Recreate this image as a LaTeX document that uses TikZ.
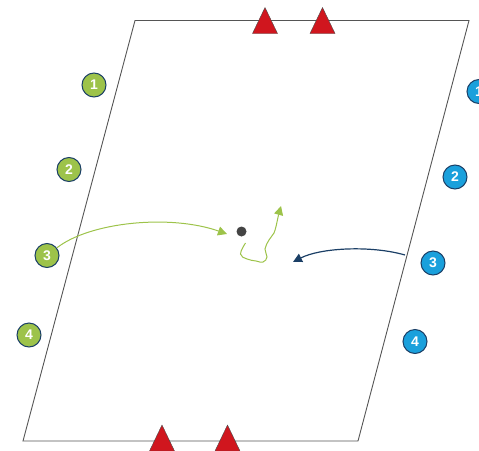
\documentclass[tikz,border=0pt]{standalone}
\usepackage{fontspec}
\setsansfont{Liberation Sans}
\usetikzlibrary{arrows.meta}
\definecolor{conered}{HTML}{D0161E}
\definecolor{pgreen}{HTML}{9DC34A}
\definecolor{pblue}{HTML}{1AA0DC}
\definecolor{navy}{HTML}{1B3F66}
\definecolor{fieldline}{HTML}{555555}
\definecolor{balldark}{HTML}{444444}
\tikzset{
  field/.style={draw=fieldline, line width=0.9pt},
  player/.style={circle, draw=navy, line width=1pt, minimum size=24pt, inner sep=0pt,
    text=white, font=\sffamily\bfseries\fontsize{14}{14}\selectfont},
  gplayer/.style={player, fill=pgreen},
  bplayer/.style={player, fill=pblue},
  greenmove/.style={draw=pgreen, line width=1pt, -{Triangle[length=9pt,width=9pt,fill=pgreen]}},
  navymove/.style={draw=navy, line width=1.2pt, -{Triangle[length=9pt,width=9pt]}},
  pics/cone/.style={code={
    \fill[conered, draw=black!70, line width=0.4pt] (-12.5,13) -- (0,-13) -- (12.5,13) -- cycle;}}
}
\begin{document}
\begin{tikzpicture}[x=1pt,y=-1pt]
\useasboundingbox (0,0) rectangle (479,450);
% field
\draw[field] (135,20.5) -- (469,20.5) -- (358,441) -- (23,441) -- cycle;
% cones
\pic at (265,20.5) {cone};
\pic at (322.5,20.5) {cone};
\pic at (162,438) {cone};
\pic at (227.5,438) {cone};
% green players
\node[gplayer] (g1) at (94,85) {1};
\node[gplayer] (g2) at (69,169.5) {2};
\node[gplayer] (g3) at (47,255.5) {3};
\node[gplayer] (g4) at (29,335) {4};
% blue players
\node[bplayer] (b1) at (479,91.5) {1};
\node[bplayer] (b2) at (455,177) {2};
\node[bplayer] (b3) at (433,263) {3};
\node[bplayer] (b4) at (415,341.5) {4};
% ball
\node[circle, fill=balldark, minimum size=10pt, inner sep=0pt] (ball) at (241.5,231.5) {};
% moves
\coordinate (gtip) at (227,234);
\draw[greenmove] (g3) .. controls (90,222) and (170,214) .. (gtip);
\coordinate (dstart) at (245.5,243);
\coordinate (dend) at (281,206);
\draw[draw=pgreen, line width=1pt] plot[smooth, tension=0.7] coordinates
  {(dstart) (240.5,254) (247,259) (256,261) (263,262) (267,257) (265,249) (269,240) (274,233) (277,222)};
\draw[greenmove] (277,222) .. controls (278.5,215) .. (dend);
\coordinate (nstart) at (405,255);
\coordinate (ntip) at (293,262);
\draw[navymove] (nstart) .. controls (370,245) and (320,248) .. (ntip);
\end{tikzpicture}
\end{document}
